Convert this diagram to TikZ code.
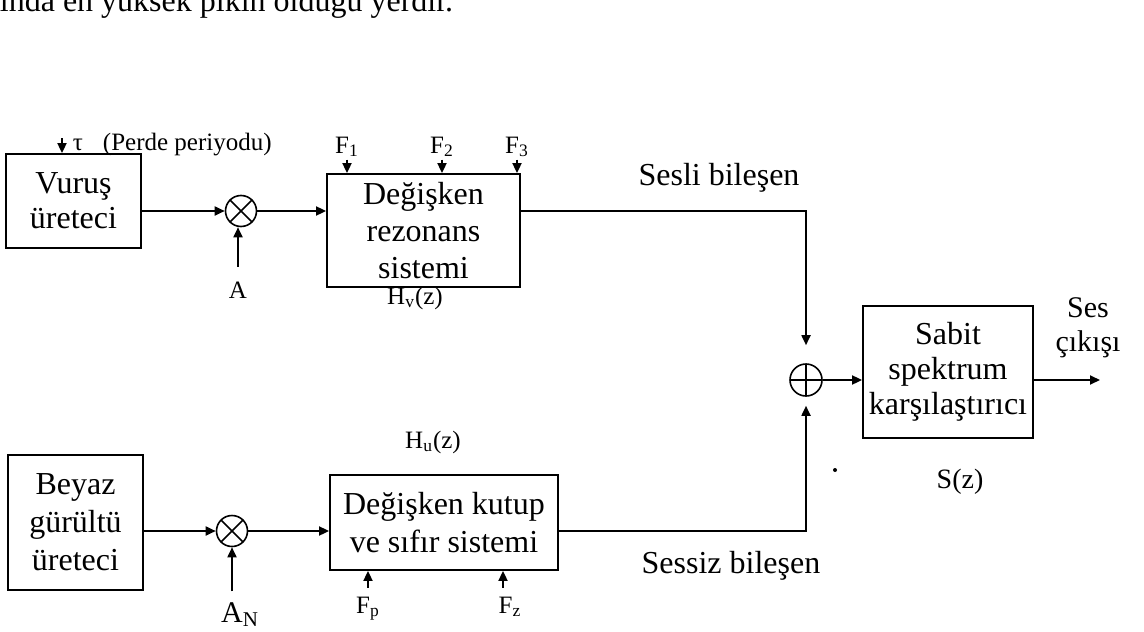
\documentclass[tikz,border=0pt]{standalone}
\usepackage{fontspec}
\setmainfont{Liberation Serif}
\usetikzlibrary{positioning, arrows.meta}

\begin{document}
\begin{tikzpicture}[x=0.5pt, y=-0.5pt, line width=0.9pt,
    font=\fontsize{16}{18}\selectfont,
    blok/.style={draw, align=center, inner sep=0pt},
    etiket/.style={font=\fontsize{12.5}{14}\selectfont, inner sep=1pt},
    ok/.style={-{Triangle[length=5pt, width=4.5pt]}},
    carpim/.style={draw, circle, line width=0.8pt, minimum size=15.5pt, inner sep=0pt,
      path picture={\draw[line width=0.8pt] (path picture bounding box.north west) -- (path picture bounding box.south east)
        (path picture bounding box.north east) -- (path picture bounding box.south west);}},
    toplam/.style={draw, circle, line width=0.8pt, minimum size=16pt, inner sep=0pt,
      path picture={\draw[line width=0.8pt] (path picture bounding box.north) -- (path picture bounding box.south)
        (path picture bounding box.west) -- (path picture bounding box.east);}}]
  \useasboundingbox (0,0) rectangle (1144,631);

  \node[anchor=base west, inner sep=0pt] (ustmetin) at (-1,12) {ında en yüksek pikin olduğu yerdir.};

  % sesli kol
  \node[blok, minimum width=67.5pt, minimum height=47pt, font=\fontsize{16}{17.5}\selectfont] (vurus) at (73.5,201) {Vuruş\\üreteci};
  \coordinate (tauok) at (62,138);
  \draw[ok] (tauok) -- (tauok |- vurus.north);
  \node[etiket, anchor=base west] (tau) at (70,150) {τ\hspace{10pt}(Perde periyodu)};
  \node[carpim] (carp1) at (241,211) {};
  \draw[ok] (vurus.east |- carp1) -- (carp1);
  \node[etiket, anchor=base, inner sep=7pt] (A) at (238,298) {A};
  \draw[ok] (A.north) -- (A.north |- carp1.south);

  \node[blok, minimum width=96.5pt, minimum height=56.5pt, font=\fontsize{16}{18.5}\selectfont] (rezonans) at (423.5,230.5) {Değişken\\rezonans\\sistemi};
  \draw[ok] (carp1) -- (carp1 -| rezonans.west);
  \node[etiket, anchor=base] (F1) at (347,153) {F\textsubscript{1}};
  \node[etiket, anchor=base] (F2) at (442,153) {F\textsubscript{2}};
  \node[etiket, anchor=base] (F3) at (517,153) {F\textsubscript{3}};
  \foreach \f in {F1,F2,F3}
    \draw[ok] (\f.south) -- (\f.south |- rezonans.north);
  \node[etiket] (hv) at (415,298) {H\textsubscript{v}(z)};
  \node (sesli) at (719,178) {Sesli bileşen};

  % toplama ve cikis
  \node[toplam] (topla) at (806,380) {};
  \draw[ok, shorten >=9pt] (rezonans.east |- carp1) -| (topla);
  \node[blok, minimum width=85pt, minimum height=66pt, font=\fontsize{16}{17.5}\selectfont] (sabit) at (948,372) {Sabit\\spektrum\\karşılaştırıcı};
  \draw[ok] (topla) -- (topla -| sabit.west);
  \coordinate (cikis) at (1100,380);
  \draw[ok] (sabit.east |- topla) -- (cikis);
  \node[font=\fontsize{15}{17}\selectfont, align=center] (sescikis) at (1088,328) {Ses\\çıkışı};
  \node[font=\fontsize{14}{16}\selectfont] (sz) at (960,482) {S(z)};
  \fill (835,470) circle (1pt);

  % sessiz kol
  \node[blok, minimum width=67.5pt, minimum height=67.5pt, font=\fontsize{16}{19}\selectfont] (beyaz) at (75.5,522.5) {Beyaz\\gürültü\\üreteci};
  \node[carpim] (carp2) at (232,531) {};
  \draw[ok] (beyaz.east |- carp2) -- (carp2);
  \node[etiket, font=\fontsize{15}{17}\selectfont, anchor=base, inner sep=5pt] (AN) at (240,622) {A\textsubscript{N}};
  \draw[ok] (AN.north -| carp2) -- (carp2.south);

  \node[blok, minimum width=114pt, minimum height=47.5pt, font=\fontsize{16}{19}\selectfont] (kutup) at (444,522.5) {Değişken kutup\\ve sıfır sistemi};
  \draw[ok] (carp2) -- (carp2 -| kutup.west);
  \node[etiket] (hu) at (433,442) {H\textsubscript{u}(z)};
  \node[etiket, anchor=base, inner sep=4pt] (Fp) at (368,613) {F\textsubscript{p}};
  \node[etiket, anchor=base, inner sep=4pt] (Fz) at (510,613) {F\textsubscript{z}};
  \draw[ok] (Fp.north) -- (Fp.north |- kutup.south);
  \draw[ok] ([xshift=-3.5pt]Fz.north) -- ([xshift=-3.5pt]Fz.north |- kutup.south);
  \draw[ok, shorten >=4.5pt] (kutup.east |- carp2) -| (topla);
  \node (sessiz) at (731,566) {Sessiz bileşen};
\end{tikzpicture}
\end{document}
